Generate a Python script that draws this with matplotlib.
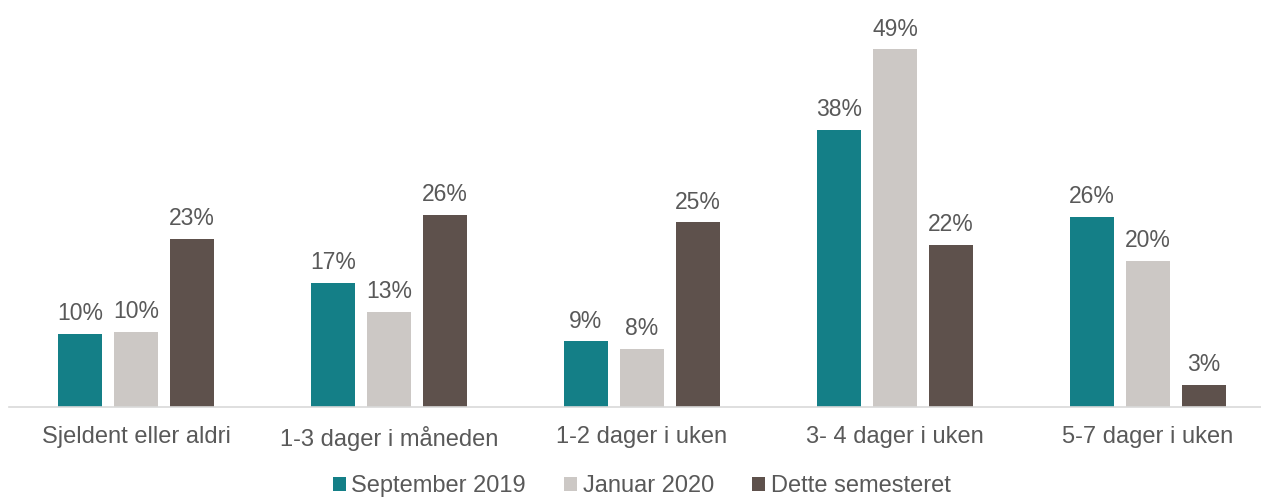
import matplotlib
matplotlib.use("Agg")
import matplotlib.pyplot as plt
import numpy as np

categories = ["Sjeldent eller aldri", "1-3 dager i måneden", "1-2 dager i uken",
              "3- 4 dager i uken", "5-7 dager i uken"]
series_names = ["September 2019", "Januar 2020", "Dette semesteret"]
sep2019 = [10.0, 17.0, 9.0, 38.0, 26.0]
jan2020 = [10.3, 13.0, 8.0, 49.0, 20.0]
dette = [23.0, 26.3, 25.3, 22.2, 3.0]
colors = ["#147F87", "#CCC8C5", "#5E514C"]

plt.rcParams['font.family'] = ['Liberation Sans', 'DejaVu Sans']
text_color = "#595959"

fig = plt.figure(figsize=(12.61, 4.99), dpi=100)
ax = fig.add_axes([9.5/1261, 92/499, 1 - 9.5/1261, 407/499])

x = np.arange(len(categories))
width = 44/253
step = 56/253
for i, (vals, name, c) in enumerate(zip([sep2019, jan2020, dette], series_names, colors)):
    pos = x + (i - 1) * step
    bars = ax.bar(pos, vals, width=width, color=c, label=name)
    for b, v in zip(bars, vals):
        ax.text(b.get_x() + b.get_width()/2, v + 1.2, f"{v:.0f}%",
                ha="center", va="bottom", fontsize=16.5, color=text_color)

ax.set_xlim(-0.5, (1261 - 136) / 253)
ax.set_ylim(0, 407/7.3)
ax.set_xticks(x)
ax.set_xticklabels(categories, fontsize=17, color=text_color)
ax.tick_params(axis="x", length=0, pad=14)
ax.set_yticks([])
for s in ["top", "right", "left"]:
    ax.spines[s].set_visible(False)
ax.spines["bottom"].set_color("#D9D9D9")
ax.spines["bottom"].set_linewidth(1.2)

leg = fig.legend(loc="center", bbox_to_anchor=(641.5/1261, 1 - 486/499), ncol=3,
                 frameon=False, fontsize=17, handlelength=0.55, handleheight=0.55,
                 handletextpad=0.25, columnspacing=1.6, borderpad=0)
for t in leg.get_texts():
    t.set_color(text_color)

fig.savefig("out.png", dpi=100)
